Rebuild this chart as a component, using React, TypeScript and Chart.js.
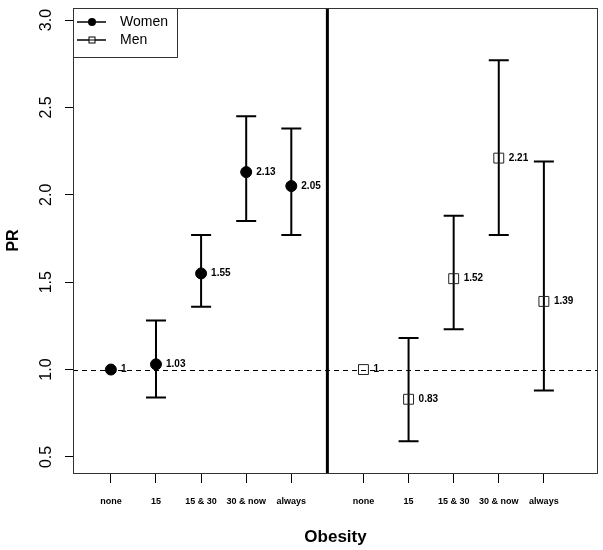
import { useEffect, useRef } from "react"
import { Chart, registerables } from "chart.js"

Chart.register(...registerables)

// Exposure categories, same for both panels
const categories = ["none", "15", "15 & 30", "30 & now", "always"]
const womenX = [1, 2, 3, 4, 5]
const menX = [6.6, 7.6, 8.6, 9.6, 10.6]
const dividerX = 5.8

// Prevalence ratios with 95% CI
const womenPR = [1, 1.03, 1.55, 2.13, 2.05]
const womenLow = [1, 0.84, 1.36, 1.85, 1.77]
const womenHigh = [1, 1.28, 1.77, 2.45, 2.38]
const menPR = [1, 0.83, 1.52, 2.21, 1.39]
const menLow = [1, 0.59, 1.23, 1.77, 0.88]
const menHigh = [1, 1.18, 1.88, 2.77, 2.19]

const yTicks = [0.5, 1.0, 1.5, 2.0, 2.5, 3.0]
const refLine = 1

const FONT = "'Liberation Sans', Arial, Helvetica, sans-serif"

const overlay = {
  id: "overlay",
  beforeDatasetsDraw(chart: any) {
    const { ctx, chartArea, scales } = chart
    const x = scales.x
    const y = scales.y
    ctx.save()

    // reference line
    ctx.strokeStyle = "#000"
    ctx.lineWidth = 1
    ctx.setLineDash([5, 4])
    const yr = Math.round(y.getPixelForValue(refLine)) + 0.5
    ctx.beginPath()
    ctx.moveTo(chartArea.left, yr)
    ctx.lineTo(chartArea.right, yr)
    ctx.stroke()
    ctx.setLineDash([])

    // divider between women and men
    const xd = x.getPixelForValue(dividerX)
    ctx.lineWidth = 3
    ctx.beginPath()
    ctx.moveTo(xd, chartArea.top)
    ctx.lineTo(xd, chartArea.bottom)
    ctx.stroke()

    // error bars
    ctx.lineWidth = 2
    const bars = (xs: number[], lo: number[], hi: number[]) => {
      xs.forEach((xv, i) => {
        if (lo[i] === hi[i]) return
        const px = x.getPixelForValue(xv)
        const pl = y.getPixelForValue(lo[i])
        const ph = y.getPixelForValue(hi[i])
        ctx.beginPath()
        ctx.moveTo(px, pl)
        ctx.lineTo(px, ph)
        ctx.moveTo(px - 10, pl)
        ctx.lineTo(px + 10, pl)
        ctx.moveTo(px - 10, ph)
        ctx.lineTo(px + 10, ph)
        ctx.stroke()
      })
    }
    bars(womenX, womenLow, womenHigh)
    bars(menX, menLow, menHigh)
    ctx.restore()
  },
  afterDraw(chart: any) {
    const { ctx, chartArea, scales } = chart
    const x = scales.x
    const y = scales.y
    ctx.save()

    // plot box
    ctx.strokeStyle = "#333"
    ctx.lineWidth = 1
    ctx.strokeRect(
      Math.round(chartArea.left) + 0.5,
      Math.round(chartArea.top) + 0.5,
      Math.round(chartArea.right - chartArea.left) - 1,
      Math.round(chartArea.bottom - chartArea.top)
    )

    // rotated y tick labels
    ctx.fillStyle = "#000"
    ctx.font = `16px ${FONT}`
    ctx.textAlign = "center"
    ctx.textBaseline = "middle"
    yTicks.forEach((v) => {
      ctx.save()
      ctx.translate(chartArea.left - 26, y.getPixelForValue(v))
      ctx.rotate(-Math.PI / 2)
      ctx.fillText(v.toFixed(1), 0, 0)
      ctx.restore()
    })

    // value labels
    ctx.font = `bold 10px ${FONT}`
    ctx.textAlign = "left"
    const labels = (xs: number[], vals: number[]) => {
      xs.forEach((xv, i) => {
        ctx.fillText(String(vals[i]), x.getPixelForValue(xv) + 10, y.getPixelForValue(vals[i]))
      })
    }
    labels(womenX, womenPR)
    labels(menX, menPR)

    // legend
    const lx = chartArea.left
    const ly = chartArea.top
    ctx.strokeStyle = "#333"
    ctx.strokeRect(Math.round(lx) + 0.5, Math.round(ly) + 0.5, 104, 49)
    ctx.font = `14px ${FONT}`
    ctx.textBaseline = "middle"
    chart.data.datasets.forEach((ds: any, i: number) => {
      const ey = ly + 14 + i * 18
      ctx.strokeStyle = "#000"
      ctx.lineWidth = 1.5
      ctx.beginPath()
      ctx.moveTo(lx + 4, ey)
      ctx.lineTo(lx + 33, ey)
      ctx.stroke()
      if (ds.pointStyle === "circle") {
        ctx.fillStyle = "#000"
        ctx.beginPath()
        ctx.arc(lx + 19, ey, 4, 0, Math.PI * 2)
        ctx.fill()
      } else {
        ctx.fillStyle = "#fff"
        ctx.lineWidth = 1
        ctx.fillRect(lx + 16, ey - 3, 6, 6)
        ctx.strokeRect(lx + 16, ey - 3, 6, 6)
        ctx.beginPath()
        ctx.moveTo(lx + 16, ey)
        ctx.lineTo(lx + 22, ey)
        ctx.stroke()
      }
      ctx.fillStyle = "#000"
      ctx.fillText(ds.label, lx + 47, ey)
    })
    ctx.restore()
  },
}

export default function App() {
  const chartRef = useRef<HTMLCanvasElement>(null)
  const chartInstance = useRef<Chart | null>(null)

  useEffect(() => {
    if (!chartRef.current) return
    if (chartInstance.current) chartInstance.current.destroy()

    Chart.defaults.font.family = FONT
    const tickLabels = [...categories, ...categories]

    chartInstance.current = new Chart(chartRef.current, {
      type: "scatter",
      data: {
        datasets: [
          {
            label: "Women",
            data: womenX.map((xv, i) => ({ x: xv, y: womenPR[i] })),
            pointStyle: "circle",
            pointRadius: 5.5,
            backgroundColor: "#000",
            borderColor: "#000",
            borderWidth: 1,
          },
          {
            label: "Men",
            data: menX.map((xv, i) => ({ x: xv, y: menPR[i] })),
            pointStyle: "rect",
            pointRadius: 7,
            backgroundColor: "rgba(0,0,0,0)",
            borderColor: "#222",
            borderWidth: 1,
          },
        ],
      },
      options: {
        responsive: false,
        animation: false,
        layout: { autoPadding: false, padding: { left: 0, right: 5, top: 8, bottom: 0 } },
        plugins: {
          legend: { display: false },
          tooltip: { enabled: false },
        },
        scales: {
          x: {
            type: "linear",
            min: 0.16,
            max: 11.8,
            afterBuildTicks: (scale: any) => {
              scale.ticks = [...womenX, ...menX].map((v) => ({ value: v }))
            },
            afterFit: (scale: any) => {
              scale.height = 77
              scale.paddingLeft = 0
              scale.paddingRight = 0
            },
            grid: { drawOnChartArea: false, drawTicks: true, tickLength: 10, color: "#000", lineWidth: 1 },
            border: { display: false },
            ticks: {
              autoSkip: false,
              maxRotation: 0,
              padding: 13,
              color: "#000",
              font: { size: 9, weight: "bold" },
              callback: (_v: any, i: number) => tickLabels[i],
            },
            title: {
              display: true,
              text: "Obesity",
              color: "#000",
              font: { size: 17, weight: "bold" },
              padding: { top: 0, bottom: 2 },
            },
          },
          y: {
            min: 0.408,
            max: 3.069,
            afterBuildTicks: (scale: any) => {
              scale.ticks = yTicks.map((v) => ({ value: v }))
            },
            afterFit: (scale: any) => {
              scale.width = 73
              scale.paddingTop = 0
              scale.paddingBottom = 0
            },
            grid: { drawOnChartArea: false, drawTicks: true, tickLength: 8, color: "#000", lineWidth: 1 },
            border: { display: false },
            ticks: { display: false },
            title: {
              display: true,
              text: "PR",
              color: "#000",
              font: { size: 16, weight: "bold" },
              padding: { top: 4, bottom: 0 },
            },
          },
        },
      },
      plugins: [overlay],
    } as any)

    return () => {
      if (chartInstance.current) {
        chartInstance.current.destroy()
        chartInstance.current = null
      }
    }
  }, [])

  return (
    <div style={{ position: "absolute", left: 0, top: 0, width: 603, height: 550, background: "#fff" }}>
      <canvas ref={chartRef} width={603} height={550} style={{ display: "block" }} />
    </div>
  )
}
